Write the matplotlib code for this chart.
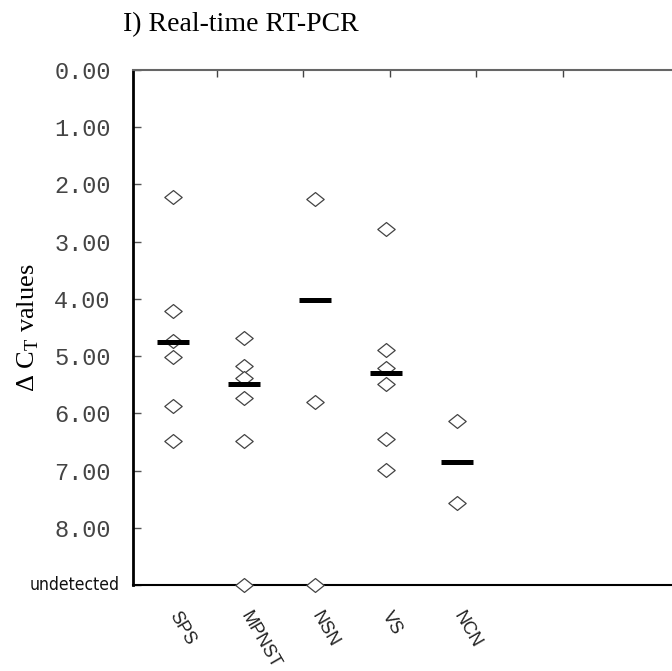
import numpy as np
import matplotlib.pyplot as plt
from matplotlib.path import Path
import matplotlib.transforms as mtransforms

plt.rcParams['mathtext.fontset'] = 'custom'
plt.rcParams['mathtext.rm'] = 'Liberation Serif'

# Delta CT values per tumour group (9.0 = undetected)
categories = ['SPS', 'MPNST', 'NSN', 'VS', 'NCN']
sps = [2.22, 4.21, 4.73, 5.01, 5.87, 6.49]
mpnst = [4.69, 5.17, 5.38, 5.74, 6.48, 9.0]
nsn = [2.25, 5.80, 9.0]
vs = [2.78, 4.89, 5.21, 5.49, 6.45, 6.99]
ncn = [6.14, 7.57]
groups = [sps, mpnst, nsn, vs, ncn]

undetected = 9.0
ytick_vals = [0, 1, 2, 3, 4, 5, 6, 7, 8, 9]
ytick_labels = ['%.2f' % v for v in ytick_vals[:-1]] + ['']

# flattened diamond marker
diamond = Path([(-1, 0), (0, 0.8), (1, 0), (0, -0.8), (-1, 0)],
               [Path.MOVETO, Path.LINETO, Path.LINETO, Path.LINETO, Path.CLOSEPOLY])

fig = plt.figure(figsize=(6.72, 6.71), dpi=100)
ax = fig.add_axes([0.198, 0.128, 0.802, 0.768])

for i, vals in enumerate(groups):
    vals = np.array(vals)
    ax.plot(np.full(len(vals), i), vals, linestyle='none', marker=diamond,
            markersize=12.5, markerfacecolor='white', markeredgecolor='#444444',
            markeredgewidth=0.9, clip_on=False, zorder=3)
    detected = vals[vals < undetected]
    ax.hlines(detected.mean(), i - 0.23, i + 0.23, colors='black',
              linewidth=3.6, zorder=4)

ax.set_xlim(-0.563, 7.03)
ax.set_ylim(undetected, 0)

ax.set_xticks(range(len(categories)))
ax.set_xticklabels(categories, rotation=-60, rotation_mode='anchor',
                   ha='left', va='center', fontsize=13,
                   family='Liberation Sans', color='#222222')
ax.tick_params(axis='x', length=0, pad=20)

ax.set_yticks(ytick_vals)
ax.set_yticklabels(ytick_labels, family='Liberation Mono', fontsize=17,
                   color='#444444')
ax.tick_params(axis='y', direction='in', length=6, width=1, pad=16,
               color='#555555')

# "undetected" sits a little closer to the axis than the numeric labels
ax.text(-0.024, undetected, 'undetected',
        transform=mtransforms.blended_transform_factory(ax.transAxes, ax.transData),
        ha='right', va='center', family='DejaVu Sans', fontstretch='condensed',
        fontsize=12.5, color='#111111')

# top axis with its own tick marks
top = ax.twiny()
top.set_xlim(0.03, 6.26)
top.set_xticks([1, 2, 3, 4, 5])
top.set_xticklabels([])
top.tick_params(axis='x', direction='in', length=5, width=1, color='#444444')
for s in ['left', 'right', 'bottom']:
    top.spines[s].set_visible(False)
top.spines['top'].set_color('#666666')
top.spines['top'].set_linewidth(1.5)

ax.spines['right'].set_visible(False)
ax.spines['top'].set_visible(False)
ax.spines['left'].set_linewidth(2)
ax.spines['bottom'].set_linewidth(1.5)

ax.set_ylabel('\u0394 C$_{\\mathrm{T}}$ values', family='Liberation Serif',
              fontsize=19)
ax.yaxis.set_label_coords(-0.17, 0.5)

fig.text(0.183, 0.963, 'I) Real-time RT-PCR', family='Liberation Serif',
         fontsize=20, va='center', ha='left')

fig.savefig('out.png', dpi=100)
